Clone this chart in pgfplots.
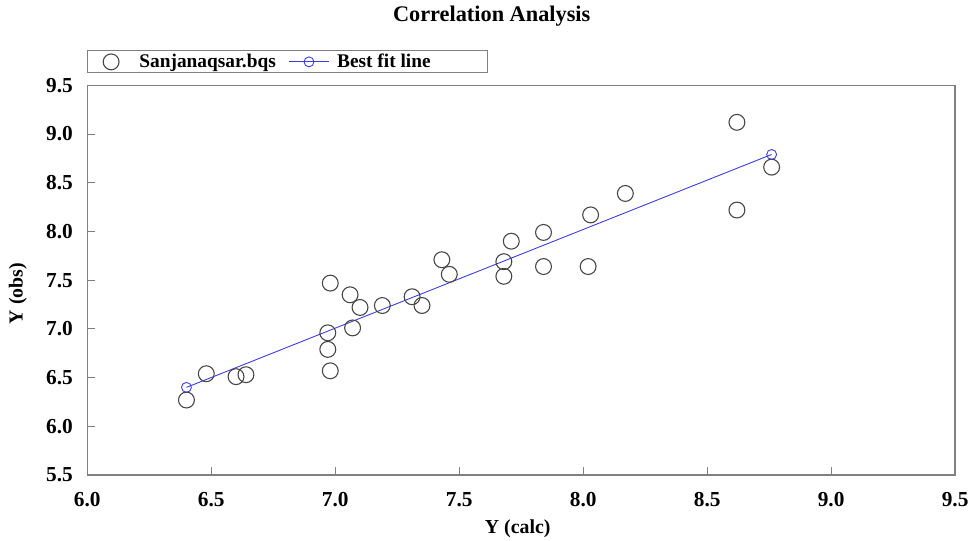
\documentclass[border=0pt]{standalone}
\usepackage{fontspec}
\setmainfont{Liberation Serif}
\usepackage{pgfplots}
\pgfplotsset{compat=1.18}
\usetikzlibrary{calc}

\definecolor{framegray}{RGB}{128,128,128}
\definecolor{markgray}{RGB}{70,70,70}
\definecolor{fitblue}{RGB}{60,60,225}

% legend picture 40pt wide, mark in the middle
\pgfplotsset{wideimg/.style={legend image code/.code={%
    \path (0pt,0pt) (40pt,0pt);
    \draw[mark repeat=2, mark phase=2, ##1] plot coordinates {(0pt,0pt) (20pt,0pt) (40pt,0pt)};}}}

\begin{document}
\begin{tikzpicture}
\begin{axis}[
    name=ax,
    scale only axis,
    width=875pt, height=393pt,
    xmin=6.0, xmax=9.5, ymin=5.5, ymax=9.5,
    xtick={6.0,6.5,...,9.5},
    ytick={5.5,6.0,...,9.5},
    xtick pos=bottom, ytick pos=left,
    tick align=inside,
    major tick length=8pt,
    axis line style={framegray, line width=1.3pt},
    every tick/.style={framegray, line width=1pt},
    /pgf/number format/assume math mode=true,
    /pgf/number format/.cd, fixed, fixed zerofill, precision=1, /pgfplots/.cd,
    ticklabel style={font=\fontsize{21.5}{24}\selectfont\bfseries},
    xticklabel style={yshift=-14pt},
    yticklabel style={xshift=-11pt},
    xlabel={Y (calc)},
    ylabel={Y (obs)},
    label style={font=\fontsize{20}{23}\selectfont\bfseries},
    xlabel style={at={(rel axis cs:0.496,-0.137)}, anchor=center},
    ylabel style={at={(rel axis cs:-0.08,0.466)}, anchor=center},
    title={Correlation Analysis},
    title style={font=\fontsize{22.5}{25}\selectfont\bfseries, at={(rel axis cs:0.466,1.163)}, anchor=center},
    legend columns=2,
    legend style={at={(rel axis cs:0,1)}, anchor=south west, yshift=12pt,
        draw=framegray, line width=1pt, inner xsep=3pt, inner ysep=2.5pt,
        nodes={inner xsep=2pt, inner ysep=1pt},
        font=\fontsize{19.5}{22}\selectfont\bfseries,
        /tikz/every odd column/.append style={column sep=6pt},
        /tikz/every even column/.append style={column sep=11pt}},
    legend cell align=left,
]
\addplot[only marks, mark=o, mark size=8pt, draw=markgray, line width=1.1pt, wideimg]
    coordinates {
    (6.40,6.27) (6.48,6.54) (6.60,6.51) (6.64,6.53)
    (6.97,6.96) (6.97,6.79) (6.98,6.57) (6.98,7.47)
    (7.06,7.35) (7.07,7.01) (7.10,7.22) (7.19,7.24)
    (7.31,7.33) (7.35,7.24) (7.43,7.71) (7.46,7.56)
    (7.68,7.69) (7.68,7.54) (7.71,7.90) (7.84,7.99)
    (7.84,7.64) (8.02,7.64) (8.03,8.17) (8.17,8.39)
    (8.62,9.12) (8.62,8.22) (8.76,8.66)
};
\addlegendentry{Sanjanaqsar.bqs}
\addplot[mark=o, mark size=5pt, color=fitblue, line width=0.9pt, wideimg]
    coordinates {
    (6.40,6.40) (8.76,8.79)
};
\addlegendentry{Best fit line\hspace*{52pt}}
\end{axis}
\pgfresetboundingbox
\path[use as bounding box] ($(ax.south west)+(-88pt,-66pt)$) rectangle ($(ax.north east)+(14pt,86pt)$);
\end{tikzpicture}
\end{document}
